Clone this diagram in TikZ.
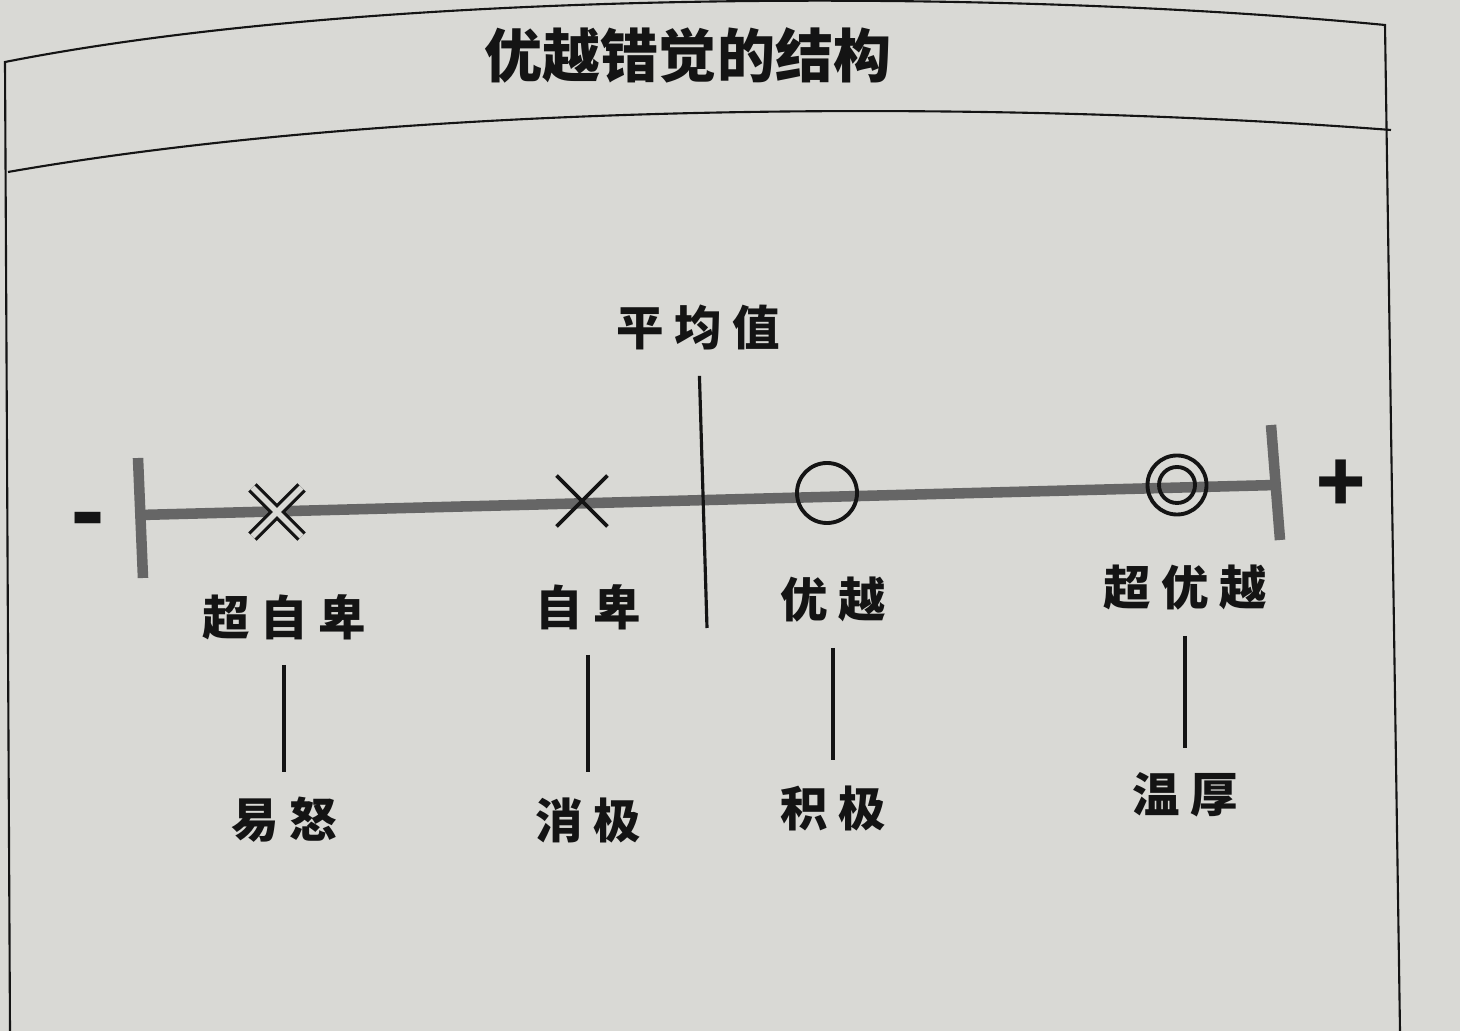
\documentclass[tikz,border=0pt]{standalone}
\usepackage{fontspec}
\setmainfont{Noto Sans CJK SC}
\usepackage{tikz}
\usetikzlibrary{shapes.misc}
\usetikzlibrary{positioning}
\definecolor{paper}{RGB}{217,217,213}
\definecolor{ink}{RGB}{20,20,20}
\tikzset{
    word/.style={
           font=\fontsize{13.5}{16}\selectfont\bfseries\addfontfeature{LetterSpace=22},
           text=ink,
           inner sep=2pt,
           },
}
\tikzset{
    axis/.style={
           draw=black!60, line width=3pt,
           },
}
\tikzset{
    sign/.style={
           draw=ink, line width=1.1pt,
           inner sep=0pt,
           },
}
\tikzset{
    stem/.style={
           draw=ink, line width=0.9pt,
           shorten <=5pt, shorten >=5pt,
           },
}

\begin{document}
\begin{tikzpicture}[x=0.01cm,y=-0.01cm]
\useasboundingbox (0,0) rectangle (1460,1031);
\fill[paper] (0,0) rectangle (1460,1031);
% frame
\draw[ink,line width=0.6pt] (10,1031) -- (5,62) .. controls (380,-12) and (1000,-12) .. (1385,25) -- (1400,1031);
\draw[ink,line width=0.6pt] (8,172) .. controls (420,100) and (1000,100) .. (1391,130);
\node[font=\fontsize{16.5}{19}\selectfont\bfseries,text=ink] (title) at (688,55) {优越错觉的结构};

% axis
\coordinate (lend) at (140,515);
\coordinate (rend) at (1276,485);
\coordinate (ltop) at (138,458);
\coordinate (lbot) at (143,578);
\coordinate (rtop) at (1271,425);
\coordinate (rbot) at (1280,540);
\draw[axis] (lend) -- (rend);
\draw[axis] (ltop) -- (lbot);
\draw[axis] (rtop) -- (rbot);
\node[font=\fontsize{26}{28}\selectfont\bfseries,text=ink] (minus) at (88,528) {-};
\node[font=\fontsize{23}{28}\selectfont\bfseries,text=ink] (plus) at (1341,486) {+};

% average
\node[word] (avg) at (698,328) {平均值};
\coordinate (avgend) at (707,628);
\draw[stem,shorten >=0pt] (avg) -- (avgend);

% marks
\node[sign,cross out,double=paper,double distance=1.6pt,line width=0.9pt,minimum size=0.46cm] (sxz) at (277,512) {};
\node[sign,cross out,minimum size=0.47cm] (xz) at (582,501) {};
\node[sign,circle,minimum size=0.6cm] (yy) at (827,493) {};
\node[sign,circle,minimum size=0.59cm] (syy) at (1177,485) {};
\node[sign,circle,minimum size=0.36cm] (syyin) at (1177,485) {};

% labels
\node[word] (sup_low) at (284,617) {超自卑};
\node[word,below of = sup_low,node distance=2.03cm] (angry) {易怒};
\node[word] (low) at (588,607) {自卑};
\node[word,below of = low,node distance=2.13cm] (neg) {消极};
\node[word] (high) at (833,600) {优越};
\node[word,below of = high,node distance=2.08cm] (pos) {积极};
\node[word] (sup_high) at (1185,588) {超优越};
\node[word,below of = sup_high,node distance=2.07cm] (warm) {温厚};

\draw[stem] (sup_low) -- (angry);
\draw[stem] (low) -- (neg);
\draw[stem] (high) -- (pos);
\draw[stem] (sup_high) -- (warm);
\end{tikzpicture}
\end{document}
